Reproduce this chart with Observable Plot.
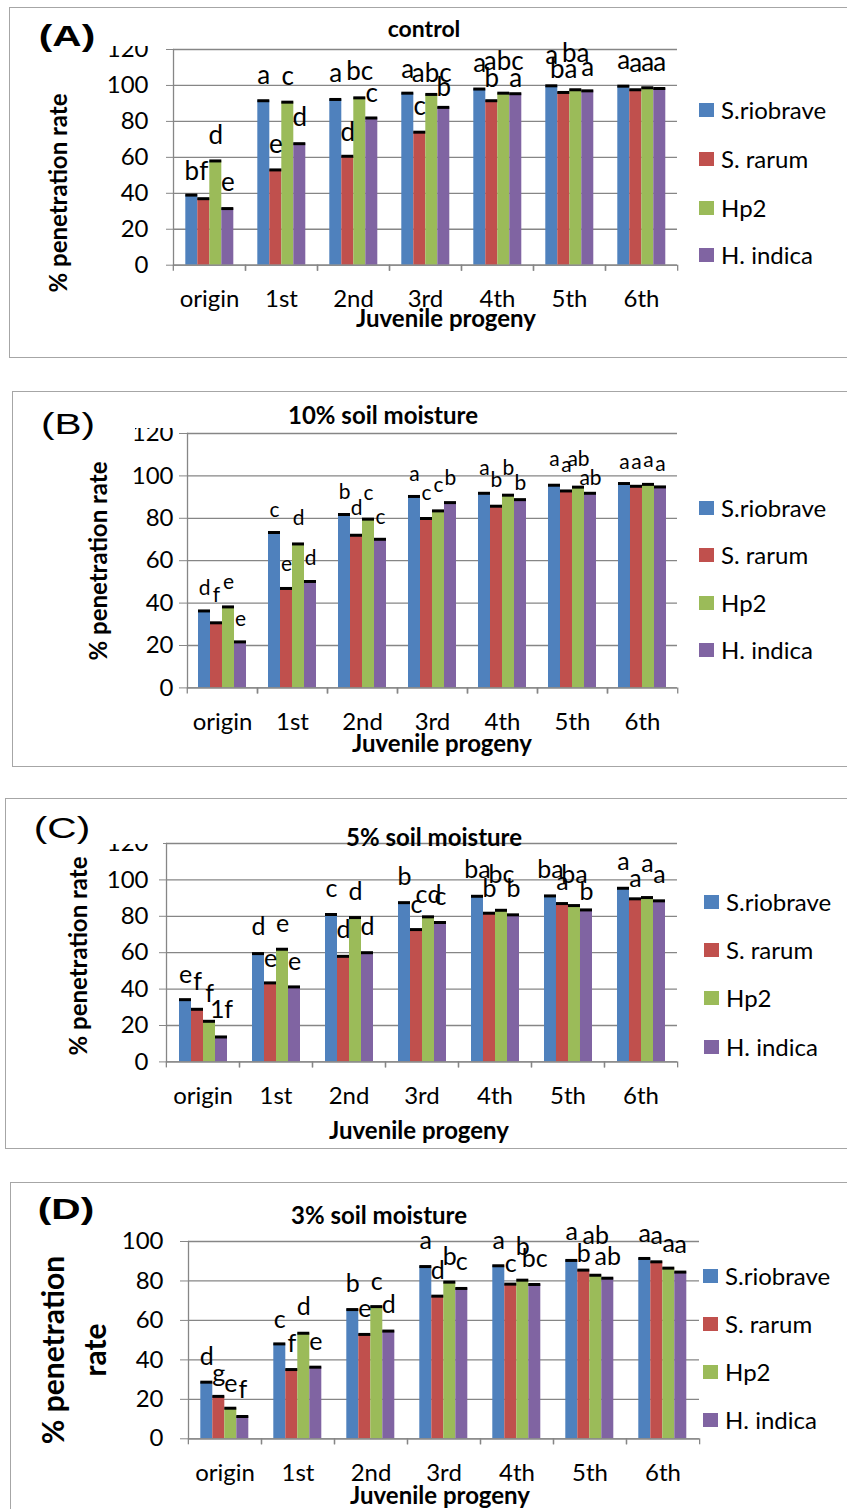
<!DOCTYPE html>
<html><head><meta charset="utf-8">
<script src="https://cdn.jsdelivr.net/npm/d3@7"></script>
<script src="https://cdn.jsdelivr.net/npm/@observablehq/plot@0.6"></script>
<style>
html,body{margin:0;padding:0;background:#fff;}
body{width:847px;height:1509px;position:relative;overflow:hidden;font-family:Lato,sans-serif;color:#000;}
.t{position:absolute;white-space:nowrap;line-height:1;}
.border{position:absolute;border:1.5px solid #a6a6a6;box-sizing:border-box;}
.cover{position:absolute;background:#fff;}
.leg{position:absolute;display:flex;align-items:center;font-size:24px;line-height:1;white-space:nowrap;transform:translateY(-50%);}
.sw{width:15px;height:14px;margin-right:7px;}
svg{overflow:visible;}
</style></head><body>
<script>
// ---------- data ----------
const categories = ["origin", "1st", "2nd", "3rd", "4th", "5th", "6th"];
const species = ["S.riobrave", "S. rarum", "Hp2", "H. indica"];
const speciesColors = ["#4F81BD", "#C0504D", "#9BBB59", "#8064A2"];
const panelTitles = ["control", "10% soil moisture", "5% soil moisture", "3% soil moisture"];
const panelTags = ["(A)", "(B)", "(C)", "(D)"];
const yTicks120 = [0, 20, 40, 60, 80, 100, 120];
const yTicks100 = [0, 20, 40, 60, 80, 100];
const xTitle = "Juvenile progeny";
const yTitle = "% penetration rate";

// values: rows = species, columns = categories
const controlValues = [
  [39, 91.5, 92.2, 95.7, 98, 99.8, 99.6],
  [37, 53, 60.6, 74, 91.5, 96.1, 97.6],
  [58, 90.7, 93.1, 95, 95.7, 97.6, 98.7],
  [31.5, 67.6, 81.9, 87.8, 95.4, 97, 98.3]
];
const moist10Values = [
  [36.3, 73.3, 81.8, 90.3, 91.8, 95.6, 96.4],
  [30.7, 46.9, 72, 79.9, 85.7, 92.9, 95.1],
  [38.2, 67.9, 79.6, 83.5, 90.9, 94.7, 96],
  [21.7, 50.2, 70.1, 87.4, 88.8, 91.8, 94.8]
];
const moist5Values = [
  [34.2, 59.5, 81, 87.5, 91, 91.2, 95.4],
  [28.9, 43.4, 58, 72.7, 81.7, 87, 89.6],
  [22.3, 61.9, 79.3, 79.7, 83.3, 85.9, 90.3],
  [13.7, 41.2, 60, 76.6, 80.8, 83.5, 88.5]
];
const moist3Values = [
  [28.7, 48.1, 65.5, 87.3, 87.7, 90.4, 91.4],
  [21.5, 35.1, 52.9, 72.3, 78.4, 85.5, 89.7],
  [15.5, 53.5, 67, 79.4, 80.4, 82.9, 86.5],
  [11.3, 36.3, 54.6, 76.2, 78.2, 81.4, 84.5]
];

// significance letters and the height (in % units) at which each sits
const controlLetters = [
  ["b", "a", "a", "a", "a", "a", "a"],
  ["f", "e", "d", "c", "b", "ba", "a"],
  ["d", "c", "bc", "abc", "abc", "ba", "a"],
  ["e", "d", "c", "b", "a", "a", "a"]
];
const controlLetterY = [
  [52, 105.5, 106.5, 109, 112, 116.7, 114],
  [52, 67, 74, 88, 103.7, 109, 112],
  [72, 105, 107.4, 106.5, 113, 117.6, 112.4],
  [46, 82, 95.4, 99, 103.7, 110, 112.4]
];
const moist10Letters = [
  ["d", "c", "b", "a", "a", "a", "a"],
  ["f", "e", "d", "c", "b", "a", "a"],
  ["e", "d", "c", "c", "b", "ab", "a"],
  ["e", "d", "c", "b", "b", "ab", "a"]
];
const moist10LetterY = [
  [46.9, 83.8, 92.5, 101, 103.5, 108, 106.6],
  [43.7, 58.2, 84.6, 91.7, 98, 105, 106.6],
  [50, 79.9, 91.7, 95.6, 103.5, 108, 107.4],
  [32.4, 61, 80.7, 98.7, 96.4, 98.7, 105.3]
];
const moist5Letters = [
  ["e", "d", "c", "b", "ba", "ba", "a"],
  ["f", "e", "d", "c", "b", "a", "a"],
  ["f", "e", "d", "cd", "bc", "ba", "a"],
  ["1f", "e", "d", "c", "b", "b", "a"]
];
const moist5LetterY = [
  [48, 74.2, 95.2, 101.6, 105.3, 105.3, 110],
  [44, 56.8, 72.3, 86, 95.2, 98.9, 100.7],
  [37.5, 76, 93.4, 91.6, 102.6, 102.6, 109],
  [28.4, 55, 74.2, 90.7, 95.2, 93.4, 102.6]
];
const moist3Letters = [
  ["d", "c", "b", "a", "a", "a", "a"],
  ["g", "f", "e", "d", "c", "b", "a"],
  ["e", "d", "c", "b", "b", "ab", "a"],
  ["f", "e", "d", "c", "bc", "ab", "a"]
];
const moist3LetterY = [
  [41.4, 60, 78.5, 100.5, 100.5, 104.7, 103.9],
  [33, 48.1, 65.9, 85.3, 88.7, 93.8, 103],
  [27.9, 66.7, 79.4, 92, 97.1, 103, 98.8],
  [24.5, 49, 67.6, 89.5, 91.2, 92, 98]
];

// ---------- layout (page pixels) ----------
const gray = "#868686";
const layouts = [
  {x0: 171.7, x1: 678.3, yTop: 49.3, y0: 265, yMax: 120, ticks: yTicks120, tick: 7, pad: 18, letter: 26,
   border: [9, 7, 900, 351], tag: [67, 36, true], title: [424, 28, 23], xt: [446, 318], yt: [58, 193, 24], leg: [699, [110, 159, 208, 255]],
   covers: [[95, 9, 70, 37]]},
  {x0: 185, x1: 678.3, yTop: 433.3, y0: 687.7, yMax: 120, ticks: yTicks120, tick: 8, pad: 6, letter: 21,
   border: [12, 391, 900, 376], tag: [68, 424, false], title: [383, 415, 24], xt: [442, 743], yt: [98, 561, 24], leg: [699, [508, 555, 603, 650]],
   covers: [[110, 393, 70, 35], [110, 393, 25, 45]]},
  {x0: 165, x1: 678, yTop: 843.3, y0: 1061.7, yMax: 120, ticks: yTicks120, tick: 7, pad: 11, letter: 25,
   border: [5, 798, 900, 351], tag: [62, 828, false], title: [434, 837, 24], xt: [419, 1130], yt: [78, 956, 24], leg: [704, [902, 950, 998, 1047]],
   covers: [[95, 800, 68, 44]]},
  {x0: 186.7, x1: 699.5, yTop: 1241, y0: 1438.3, yMax: 100, ticks: yTicks100, tick: 8, pad: 17, letter: 25,
   border: [10, 1182, 900, 400], tag: [66, 1209, true], title: [379, 1215, 24], xt: [440, 1495], yt: null, leg: [703, [1276, 1324, 1372, 1420]],
   covers: []}
];
const panelValues = [controlValues, moist10Values, moist5Values, moist3Values];
const panelLetters = [controlLetters, moist10Letters, moist5Letters, moist3Letters];
const panelLetterY = [controlLetterY, moist10LetterY, moist5LetterY, moist3LetterY];

function addDiv(cls, css, text) {
  const d = document.createElement("div");
  d.className = cls;
  d.style.cssText = css;
  if (text != null) d.textContent = text;
  document.body.appendChild(d);
  return d;
}

// borders first (behind everything)
layouts.forEach(L => {
  const [l, t, w, h] = L.border;
  addDiv("border", `left:${l}px;top:${t}px;width:${w}px;height:${h}px;`);
});

layouts.forEach((L, p) => {
  const values = panelValues[p], letters = panelLetters[p], letterY = panelLetterY[p];
  const rows = [];
  species.forEach((s, i) => categories.forEach((c, j) => rows.push({
    cat: c, sp: s, value: values[i][j], letter: letters[i][j], ly: letterY[i][j]
  })));
  const W = 712, mt = 40, mb = 60;
  const ph = L.y0 - L.yTop;
  const H = mt + ph + mb;
  const step = (L.x1 - L.x0) / categories.length;
  const chart = Plot.plot({
    width: W, height: H,
    marginLeft: L.x0, marginRight: W - L.x1, marginTop: mt, marginBottom: mb,
    style: {fontFamily: "Lato, sans-serif", color: "#000", background: "transparent", overflow: "visible"},
    fx: {domain: categories, padding: 0, label: null},
    x: {domain: species, paddingInner: 0, paddingOuter: 0.82, axis: null},
    y: {domain: [0, L.yMax], label: null},
    color: {domain: species, range: speciesColors},
    marks: [
      Plot.gridY(L.ticks, {stroke: gray, strokeOpacity: 1, strokeWidth: 1.3}),
      Plot.barY(rows, {fx: "cat", x: "sp", y: "value", fill: "sp"}),
      Plot.tickY(rows, {fx: "cat", x: "sp", y: "value", stroke: "#000", strokeWidth: 3}),
      Plot.ruleY([0], {stroke: gray, strokeWidth: 1.3}),
      Plot.frame({anchor: "left", facetAnchor: "left", stroke: gray, strokeWidth: 1.3}),
      Plot.axisY(L.ticks, {anchor: "left", tickSize: L.tick, tickPadding: L.pad, stroke: gray, fontSize: 24, label: null}),
      Plot.axisFx({anchor: "bottom", tickSize: 0, tickPadding: 25, fontSize: 24, label: null}),
      Plot.axisFx({anchor: "bottom", tickSize: 6, text: null, dx: -step / 2, label: null, stroke: gray, strokeWidth: 1.3}),
      Plot.axisFx([categories[categories.length - 1]], {anchor: "bottom", tickSize: 6, text: null, dx: step / 2, label: null, stroke: gray, strokeWidth: 1.3}),
      Plot.text(rows, {fx: "cat", x: "sp", y: "ly", text: "letter", fontSize: L.letter, lineAnchor: "middle", fill: "#000"})
    ]
  });
  chart.style.position = "absolute";
  chart.style.left = "0px";
  chart.style.top = (L.yTop - mt) + "px";
  document.body.appendChild(chart);

  // covers that hide the top of the "120" label as in the source
  L.covers.forEach(([l, t, w, h]) => addDiv("cover", `left:${l}px;top:${t}px;width:${w}px;height:${h}px;`));

  // panel tag
  const [tx, ty, bold] = L.tag;
  addDiv("t", `left:${tx}px;top:${ty}px;transform:translate(-50%,-50%) scaleX(1.4);font-family:'Liberation Sans',Arial,sans-serif;font-size:29px;font-weight:${bold ? "bold" : "normal"};`, panelTags[p]);

  // title
  const [cx, cy, fs] = L.title;
  addDiv("t", `left:${cx}px;top:${cy}px;transform:translate(-50%,-50%);font-size:${fs}px;font-weight:bold;`, panelTitles[p]);

  // x title
  addDiv("t", `left:${L.xt[0]}px;top:${L.xt[1]}px;transform:translate(-50%,-50%);font-size:24px;font-weight:bold;`, xTitle);

  // y title
  if (L.yt) {
    addDiv("t", `left:${L.yt[0]}px;top:${L.yt[1]}px;transform:translate(-50%,-50%) rotate(-90deg);font-size:${L.yt[2]}px;font-weight:bold;`, yTitle);
  } else {
    addDiv("t", `left:52px;top:1350px;transform:translate(-50%,-50%) rotate(-90deg);font-size:30px;font-weight:bold;`, "% penetration");
    addDiv("t", `left:94px;top:1350px;transform:translate(-50%,-50%) rotate(-90deg);font-size:30px;font-weight:bold;`, "rate");
  }

  // legend
  species.forEach((s, i) => {
    const d = addDiv("leg", `left:${L.leg[0]}px;top:${L.leg[1][i]}px;`);
    const sw = document.createElement("div");
    sw.className = "sw";
    sw.style.background = speciesColors[i];
    d.appendChild(sw);
    const sp = document.createElement("span");
    sp.textContent = s;
    d.appendChild(sp);
  });
});
</script>
</body></html>
